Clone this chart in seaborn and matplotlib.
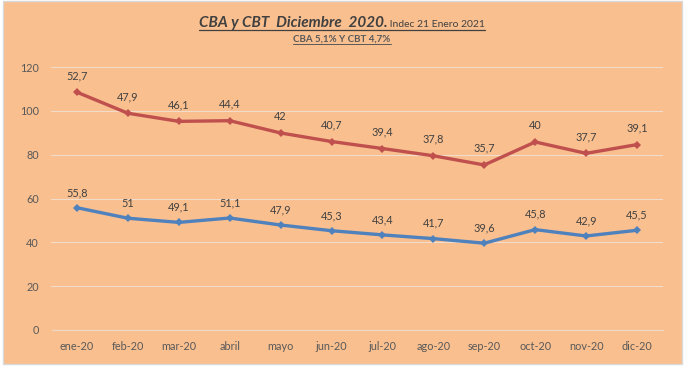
import matplotlib
matplotlib.use("Agg")
import matplotlib.pyplot as plt
from matplotlib.patches import Rectangle
from matplotlib.lines import Line2D
import numpy as np
import pandas as pd
import seaborn as sns

months = ["ene-20", "feb-20", "mar-20", "abril", "mayo", "jun-20", "jul-20",
          "ago-20", "sep-20", "oct-20", "nov-20", "dic-20"]
cba = [55.8, 51, 49.1, 51.1, 47.9, 45.3, 43.4, 41.7, 39.6, 45.8, 42.9, 45.5]
cbt = [52.7, 47.9, 46.1, 44.4, 42, 40.7, 39.4, 37.8, 35.7, 40, 37.7, 39.1]
yticks = [0, 20, 40, 60, 80, 100, 120]

title_main = "CBA y CBT  Diciembre  2020."
title_small = " Indec 21 Enero 2021"
subtitle = "CBA 5,1% Y CBT 4,7%"

BG = "#F9BF8F"
FONT = ["Lato", "DejaVu Sans"]

sns.set_theme(style="white")
plt.rcParams["font.family"] = FONT

W, H = 688, 371
fig = plt.figure(figsize=(W / 100, H / 100), dpi=100)
fig.patch.set_facecolor("white")
fig.patches.append(Rectangle((3 / W, 1 - 364 / H), 679 / W, 363 / H,
                             transform=fig.transFigure, facecolor=BG,
                             edgecolor="#D9D9D9", linewidth=1, zorder=-10))

ax = fig.add_axes([51.5 / W, 1 - 330 / H, 611 / W, 263 / H])
ax.set_facecolor("none")

idx = np.arange(len(months))
stacked_top = [a + b for a, b in zip(cba, cbt)]
df = pd.DataFrame({
    "x": np.concatenate([idx, idx]),
    "valor": cba + stacked_top,
    "serie": ["CBA"] * len(months) + ["CBT"] * len(months),
})
sns.lineplot(data=df, x="x", y="valor", hue="serie",
             palette={"CBA": "#4F81BD", "CBT": "#C0504D"},
             marker="D", markersize=4.5, linewidth=2.4,
             markeredgewidth=0, sort=False, legend=False, ax=ax)

for i in idx:
    ax.annotate(f"{cba[i]:g}".replace(".", ","), (i, cba[i]),
                xytext=(0, 7), textcoords="offset points",
                ha="center", va="bottom", fontsize=7.8, color="#404040")
    ax.annotate(f"{cbt[i]:g}".replace(".", ","), (i, stacked_top[i]),
                xytext=(0, 8), textcoords="offset points",
                ha="center", va="bottom", fontsize=7.8, color="#404040")

ax.set_xlim(-0.5, len(months) - 0.5)
ax.set_ylim(0, 120)
ax.set_yticks(yticks)
ax.set_yticklabels([str(v) for v in yticks])
ax.set_xticks(idx)
ax.set_xticklabels(months)
ax.set_xticks(np.arange(-0.5, len(months), 1), minor=True)
ax.tick_params(axis="x", which="major", length=0, pad=8, labelsize=7.8,
               labelcolor="#595959")
ax.tick_params(axis="x", which="minor", length=4, width=0.8, color="#EFD9C6",
               direction="out")
ax.tick_params(axis="y", length=0, pad=9, labelsize=7.8, labelcolor="#595959")
ax.set_xlabel("")
ax.set_ylabel("")
ax.grid(axis="y", color="#F2DDCB", linewidth=0.8)
ax.set_axisbelow(True)
for s in ["top", "right", "left"]:
    ax.spines[s].set_visible(False)
ax.spines["bottom"].set_color("#EFD9C6")
ax.spines["bottom"].set_linewidth(0.9)

# Titles
t1 = fig.text(0, 0, title_main, fontsize=11, fontweight="bold", style="italic",
              color="#404040")
t2 = fig.text(0, 0, title_small, fontsize=7.5, color="#404040")
t3 = fig.text(0, 0, subtitle, fontsize=7, fontweight="bold", color="#595959")
fig.canvas.draw()
r = fig.canvas.get_renderer()
w1 = t1.get_window_extent(r).width
w2 = t2.get_window_extent(r).width
total = w1 + w2
cx = 342
base1 = H - 27
x0 = cx - total / 2
t1.set_position((x0 / W, base1 / H))
t1.set_va("baseline")
t2.set_position(((x0 + w1) / W, base1 / H))
t2.set_va("baseline")
fig.add_artist(Line2D([x0 / W, (x0 + total) / W], [(base1 - 3) / H] * 2,
                      transform=fig.transFigure, color="#404040", linewidth=0.9))
w3 = t3.get_window_extent(r).width
base3 = H - 42
t3.set_position(((cx - w3 / 2) / W, base3 / H))
t3.set_va("baseline")
fig.add_artist(Line2D([(cx - w3 / 2) / W, (cx + w3 / 2) / W], [(base3 - 2) / H] * 2,
                      transform=fig.transFigure, color="#595959", linewidth=0.7))

fig.savefig("out.png", dpi=100)
